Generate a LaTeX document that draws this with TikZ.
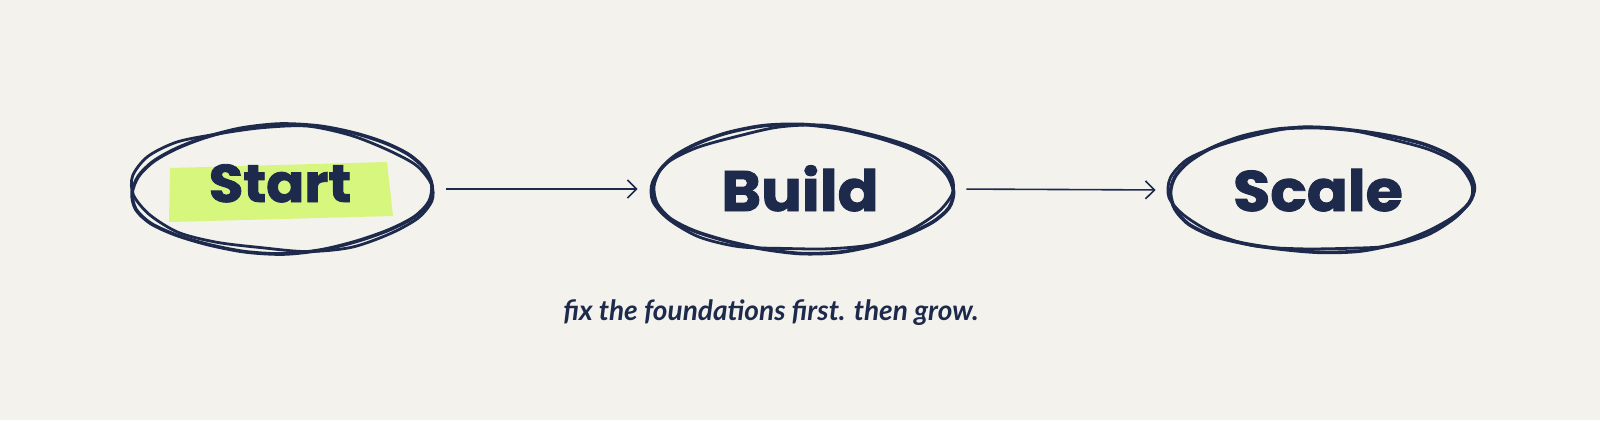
\documentclass[tikz,border=0pt]{standalone}
\usepackage{fontspec}
\setmainfont{Poppins}
\newfontfamily\heavy{Poppins}[UprightFont={* Bold}, UprightFeatures={FakeBold=1.6, FakeStretch=1.06}]
\newfontfamily\capfont{Lato}
\usetikzlibrary{shapes.geometric,arrows.meta,calc}
\definecolor{navy}{HTML}{1D2A4C}
\definecolor{lime}{HTML}{D6F67E}
\definecolor{paper}{HTML}{F3F2ED}
\tikzset{
  oval/.style={draw=none, ellipse, minimum width=150pt, minimum height=64pt, inner sep=0pt},
  label/.style={font=\heavy\fontsize{28.5}{30}\selectfont, text=navy, anchor=base},
  sketch/.style={draw=navy, line width=1.8pt, line join=round},
  flow/.style={draw=navy, line width=0.8pt, -{Straight Barb[length=4.5pt,width=9pt,line width=0.8pt]}, shorten <=7pt, shorten >=7pt},
}
\newcommand{\scribble}[5]{% center, rx, ry, phase, rot
  \draw[sketch, shift={(#1)}, rotate=#5] plot[domain=0:345, samples=24, smooth cycle, variable=\t]
    ({(#2+2.5*sin(3*\t+#4))*cos(\t)}, {(#3+2*cos(4*\t+#4))*sin(\t)});
  \draw[sketch, line width=1.4pt, shift={(#1)}, rotate=-#5] plot[domain=7:352, samples=20, smooth cycle, variable=\t]
    ({(#2-1.5+3*sin(2*\t+#4+60))*cos(\t)}, {(#3-1+2.5*cos(5*\t+#4+30))*sin(\t)});
}
\begin{document}
\begin{tikzpicture}[x=0.5pt, y=-0.5pt]
\fill[paper] (0,0) rectangle (1600,420);
\useasboundingbox (0,0) rectangle (1600,420);

\node[oval] (start) at (282,189) {};
\node[oval] (build) at (802,189) {};
\node[oval] (scale) at (1320,190) {};

% highlight behind Start
\fill[lime] (170,168) -- (387,162) -- (393,216) -- (169,222) -- cycle;

\node[label, font=\heavy\fontsize{26.5}{26}\selectfont] (tstart) at (280,202) {Start};
\node[label] (tbuild) at (800,211) {Build};
\node[label] (tscale) at (1318,211) {Scale};

\scribble{start.center}{150}{63}{0}{1.5}
\scribble{build.center}{150}{63}{40}{-1}
\scribble{scale.center}{152}{62}{80}{1}

\draw[flow] (start.east) -- (build.west);
\draw[flow] (build.east) -- (scale.west);

\node[text=navy, anchor=base, font=\capfont\itshape\bfseries\fontsize{14}{15}\selectfont] (caption) at (771,320) {fix the foundations first. then grow.};
\end{tikzpicture}
\end{document}
